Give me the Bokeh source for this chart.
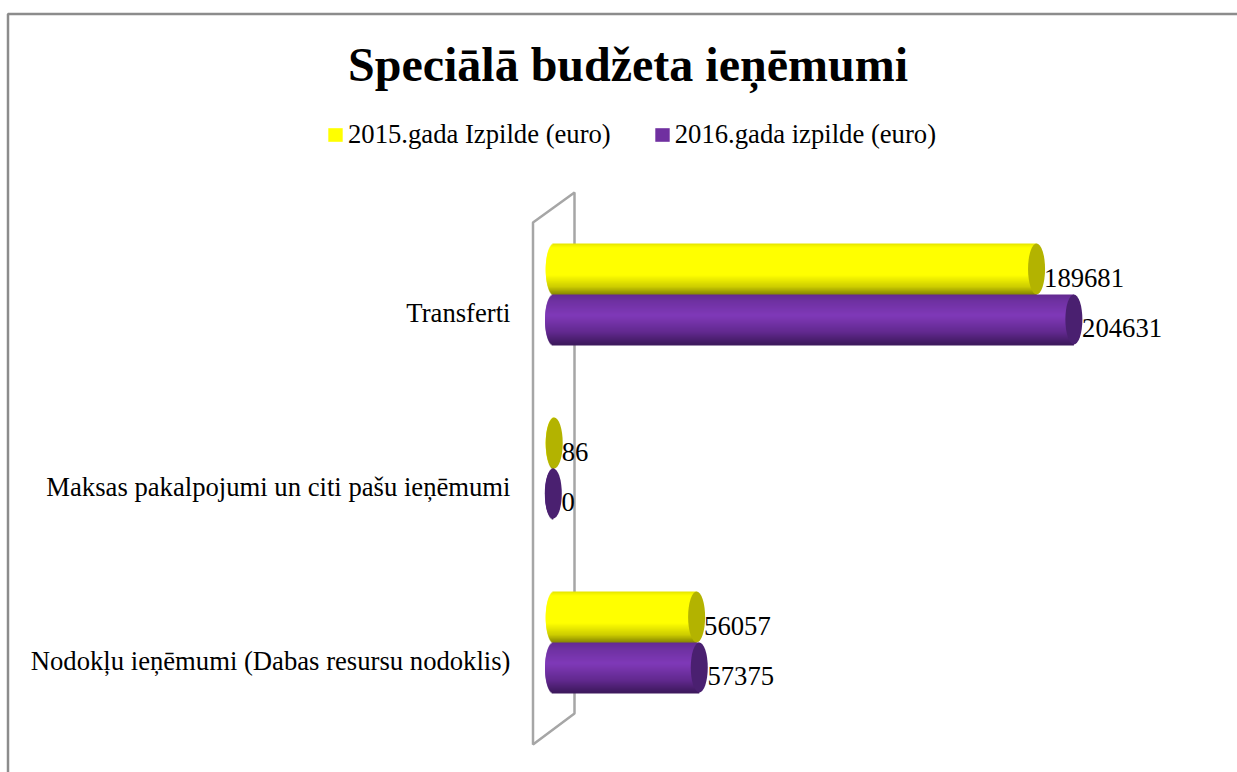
import math
from bokeh.plotting import figure
from bokeh.embed import file_html
from bokeh.resources import INLINE
from bokeh.models import (Range1d, Legend, LegendItem, Label, PolyAnnotation, ColumnDataSource)

title = "Speciālā budžeta ieņēmumi"
categories = ["Nodokļu ieņēmumi (Dabas resursu nodoklis)",
              "Maksas pakalpojumi un citi pašu ieņēmumi",
              "Transferti"]
series_names = ["2015.gada Izpilde (euro)", "2016.gada izpilde (euro)"]
values_2015 = [56057, 86, 189681]
values_2016 = [57375, 0, 204631]

W, H = 1237, 772
FONT = "Liberation Serif"
FS = "26.67px"
PX_X = 0.002544          # px per euro
X0 = 553.5               # x of zero
Y0 = 660.0               # y of first category label
PX_Y = 174.0             # px per category

x_range = Range1d(-X0 / PX_X, (W - X0) / PX_X)
y_range = Range1d(-(H - Y0) / PX_Y, Y0 / PX_Y)

p = figure(width=W, height=H, output_backend="svg", toolbar_location=None,
           x_range=x_range, y_range=y_range,
           min_border_left=0, min_border_right=0, min_border_top=0, min_border_bottom=0)
p.outline_line_color = None
p.grid.visible = False
p.axis.visible = False


def poly(pts, color, width):
    a = PolyAnnotation(xs=[q[0] for q in pts], ys=[q[1] for q in pts], xs_units="canvas", ys_units="canvas",
                       fill_alpha=0, line_color=color, line_alpha=1, line_width=width, level="underlay")
    p.add_layout(a)


# chart border and the 3-D wall
poly([(7.5, 13.5), (1260, 13.5), (1260, 800), (7.5, 800)], "#8c8c8c", 2.5)
poly([(532.5, 222), (574, 192), (574, 713), (532.5, 744)], "#a6a6a6", 2.5)


def hex2rgb(h):
    return tuple(int(h[i:i + 2], 16) for i in (1, 3, 5))


def shade(stops, t):
    for (t0, c0), (t1, c1) in zip(stops, stops[1:]):
        if t <= t1:
            f = (t - t0) / (t1 - t0)
            a, b = hex2rgb(c0), hex2rgb(c1)
            return "#%02x%02x%02x" % tuple(round(a[i] + (b[i] - a[i]) * f) for i in range(3))
    return stops[-1][1]


def cylinder(values, base, stops, cap, off_px, h_px, x_nudge):
    ys = [i + off_px / PX_Y for i in range(len(values))]
    vals = [v + x_nudge / PX_X for v in values]
    src = ColumnDataSource(dict(y=ys, right=vals, left=[x_nudge / PX_X] * len(values)))
    main = p.hbar(y="y", left="left", right="right", height=(h_px - 3) / PX_Y, source=src,
                  fill_color=base, line_color=None)
    n = int(h_px)
    sy, sl, sr, sc = [], [], [], []
    for y, v in zip(ys, vals):
        for k in range(n):
            t = (k + 0.5) / n
            sy.append(y + (0.5 - t) * h_px / PX_Y - 0.5 / PX_Y)
            sl.append(x_nudge / PX_X - 8.3 * math.sqrt(max(0, 1 - (2 * t - 1) ** 2)) / PX_X)
            sr.append(v)
            sc.append(shade(stops, t))
    p.hbar(y=sy, left=sl, right=sr, height=2.0 / PX_Y, fill_color=sc, line_color=None)
    p.ellipse(x="right", y="y", width=17, height=h_px / PX_Y, width_units="screen", source=src,
              fill_color=cap, line_color=None)
    return main


yellow_stops = [(0, "#e4e400"), (0.08, "#ffff00"), (0.62, "#ffff00"), (0.85, "#cccc00"), (1, "#858500")]
purple_stops = [(0, "#632a90"), (0.12, "#6e31a0"), (0.42, "#8039b8"), (0.75, "#62298f"), (1, "#3c195c")]

r1 = cylinder(values_2015, "#ffff00", yellow_stops, "#b3b300", 43.5, 51, 0)
r2 = cylinder(values_2016, "#7030a0", purple_stops, "#4a2070", -7, 50, -0.7)

for vals, off in ((values_2015, 43.5), (values_2016, -7)):
    p.text(x=vals, y=[i + off / PX_Y for i in range(len(vals))], text=[str(v) for v in vals],
           x_offset=7.5, y_offset=8.5, text_align="left", text_baseline="middle",
           text_font={"value": FONT}, text_font_size={"value": FS}, text_color="#000000")

# category labels
p.text(x=[0] * len(categories), y=list(range(len(categories))), text=categories,
       x_offset=510 - X0, text_align="right", text_baseline="middle",
       text_font={"value": FONT}, text_font_size={"value": FS}, text_color="#000000")

legend = Legend(items=[LegendItem(label=series_names[0], renderers=[r1]),
                       LegendItem(label=series_names[1], renderers=[r2])],
                orientation="horizontal", location=(326, H - 150),
                glyph_width=18, glyph_height=17, label_standoff=4, spacing=42, padding=0, margin=0,
                border_line_color=None, background_fill_alpha=0,
                label_text_font=FONT, label_text_font_size=FS, label_text_color="#000000",
                label_height=24, label_text_baseline="middle")
p.add_layout(legend)

p.add_layout(Label(x=627.5, y=64, x_units="canvas", y_units="canvas", text=title,
                   text_font=FONT, text_font_size="48px", text_font_style="bold",
                   text_align="center", text_baseline="middle", text_color="#000000"))

open("out.html", "w").write(file_html(p, INLINE))
